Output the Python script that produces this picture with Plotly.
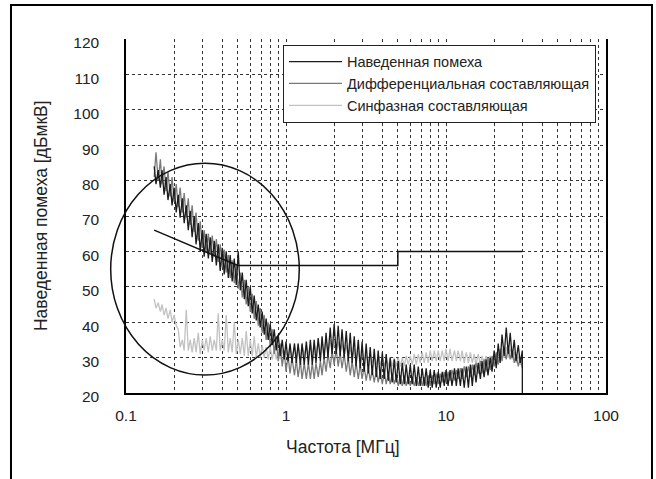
import plotly.graph_objects as go

# Frequency sweep [MHz] (shared by the three measured spectra)
freq_mhz = [0.150, 0.154, 0.159, 0.164, 0.168, 0.173, 0.178, 0.183, 0.189, 0.194,
            0.200, 0.206, 0.212, 0.218, 0.225, 0.231, 0.238, 0.245, 0.252, 0.259,
            0.267, 0.274, 0.283, 0.291, 0.300, 0.308, 0.317, 0.327, 0.336, 0.346,
            0.356, 0.367, 0.377, 0.388, 0.400, 0.411, 0.423, 0.436, 0.448, 0.461,
            0.475, 0.489, 0.503, 0.518, 0.533, 0.549, 0.564, 0.581, 0.598, 0.615,
            0.633, 0.652, 0.671, 0.690, 0.710, 0.731, 0.752, 0.774, 0.797, 0.820,
            0.844, 0.869, 0.894, 0.920, 0.947, 0.975, 1.00, 1.03, 1.06, 1.09,
            1.13, 1.16, 1.19, 1.23, 1.26, 1.30, 1.34, 1.38, 1.42, 1.46,
            1.50, 1.54, 1.59, 1.64, 1.68, 1.73, 1.78, 1.83, 1.89, 1.94,
            2.00, 2.06, 2.12, 2.18, 2.24, 2.31, 2.38, 2.45, 2.52, 2.59,
            2.67, 2.74, 2.83, 2.91, 2.99, 3.08, 3.17, 3.27, 3.36, 3.46,
            3.56, 3.67, 3.77, 3.88, 4.00, 4.11, 4.23, 4.36, 4.48, 4.61,
            4.75, 4.89, 5.03, 5.18, 5.33, 5.49, 5.64, 5.81, 5.98, 6.15,
            6.33, 6.52, 6.71, 6.90, 7.10, 7.31, 7.52, 7.74, 7.97, 8.20,
            8.44, 8.69, 8.94, 9.20, 9.47, 9.75, 10.0, 10.3, 10.6, 10.9,
            11.3, 11.6, 11.9, 12.3, 12.6, 13.0, 13.4, 13.8, 14.2, 14.6,
            15.0, 15.4, 15.9, 16.4, 16.8, 17.3, 17.8, 18.3, 18.9, 19.4,
            20.0, 20.6, 21.2, 21.8, 22.4, 23.1, 23.8, 24.5, 25.2, 25.9,
            26.7, 27.4, 28.3, 29.1, 30.0]

# Total conducted noise [dBuV]
total_db = [84, 79, 83, 78, 83, 76, 81, 74.5, 79, 73,
            78, 71, 76, 69.5, 75, 68, 73, 66, 71.5, 64,
            70, 62, 68, 60, 66, 58.5, 65, 58, 64, 57,
            63, 56, 62, 54.5, 61, 53.5, 60, 52.5, 59, 51.5,
            58, 50.5, 60, 49, 54, 46.5, 52, 44.5, 50, 42.5,
            47.5, 40.5, 45, 38.5, 43, 36.5, 41, 35, 39.5, 33.5,
            38, 32, 36.5, 30.5, 35, 29.5, 34.5, 29, 34, 28.5,
            34, 28.5, 34, 28, 34, 28, 34.5, 28, 35, 28,
            35, 28.5, 35.5, 29, 36, 29.5, 37, 30, 38.5, 31,
            39.5, 31, 39, 30.5, 38, 30, 37.5, 29, 37, 28.5,
            36, 27.5, 35, 27, 34.5, 26, 34, 25.5, 33, 25,
            32.5, 24.5, 32, 24, 31.5, 24, 31, 23.5, 30, 23,
            29.5, 23, 29, 22.5, 28.5, 22.5, 28, 22.5, 28, 22.5,
            28, 22, 27.5, 22, 27, 22, 27, 21.5, 26.5, 21.5,
            26.5, 21.5, 26, 21.5, 26, 22, 26.5, 22, 26.5, 22,
            27, 22, 27, 22, 27, 21.5, 27.5, 21.5, 28, 22,
            28, 23, 28.5, 24, 29, 24.5, 29.5, 25, 30, 26,
            32, 27, 34, 28.5, 36.5, 30.5, 38.5, 31, 37, 30,
            35, 29, 33.5, 28.5, 32]
total_tail_mhz = [30.0]
total_tail_db = [20]

# Differential-mode component [dBuV]
diff_db = [81, 88, 80, 86, 79, 84, 77, 82.5, 75.5, 81,
           74, 79, 72.5, 78, 71, 76.5, 69.5, 75, 67.5, 73,
           65.5, 71, 63, 68.5, 61, 66, 60, 65, 59.5, 64.5,
           58.5, 63.5, 57, 62, 55.5, 60.5, 54, 59, 52.5, 57.5,
           51, 56, 49.5, 54, 47, 52, 45, 50, 43, 48,
           41, 46, 39, 44, 37, 42, 35, 40, 33, 38,
           31, 36, 29, 34, 27.5, 32, 26, 30.5, 25.5, 30,
           25, 29.5, 24.5, 29, 24, 28.5, 24, 28.5, 24, 28.5,
           24, 28.5, 24.5, 29, 25, 30, 26, 31, 27, 32,
           28, 32.5, 27.5, 31.5, 27, 31, 26, 30, 25, 29,
           24.5, 28.5, 24, 28, 24, 27.5, 23.5, 27, 23.5, 26.5,
           23, 26.5, 23, 26, 22.5, 26, 22.5, 25.5, 22.5, 25.5,
           22.5, 25, 22, 25, 22, 25, 22, 24.5, 22, 24.5,
           22, 24.5, 22, 24.5, 22, 24.5, 22, 25, 22, 25,
           22.5, 25.5, 22.5, 25.5, 23, 26, 23, 26, 23.5, 26.5,
           23.5, 26.5, 24, 27, 24, 27.5, 24.5, 27.5, 24.5, 28,
           25, 28.5, 25.5, 29, 25.5, 29.5, 26, 30, 26.5, 30.5,
           27.5, 31.5, 28, 32.5, 29, 33, 29.5, 33, 29.5, 32,
           28.5, 31, 27.5, 30, 27]

# Common-mode component [dBuV]
common_db = [46.5, 44, 45.5, 43, 45, 42, 44, 41, 43.5, 40,
             42, 39, 38, 33, 35, 32, 43.5, 32, 35, 31.5,
             35.5, 31.5, 37, 31, 35, 32, 35.5, 31.5, 36, 32,
             35, 32, 42.5, 32, 35, 32, 42, 31.5, 35.5, 31.5,
             40, 31, 35, 31, 35.5, 30.5, 37.5, 30.5, 35, 30.5,
             36, 30, 34, 30, 33.5, 30, 33, 29.5, 33, 29.5,
             32.5, 29.5, 32.5, 29.5, 32, 29.5, 32, 29.5, 32.5, 30,
             33, 30, 33, 30, 33.5, 30.5, 33.5, 30.5, 34, 30.5,
             34, 31, 34.5, 31, 34.5, 31, 35, 31.5, 35, 31.5,
             35, 31.5, 34.5, 31, 34, 30.5, 33.5, 30, 33, 30,
             32.5, 29.5, 32, 29, 31.5, 29, 31, 28.5, 31, 28.5,
             30.5, 28, 30.5, 28, 30, 27.5, 30, 27.5, 30, 27.5,
             30, 27.5, 30, 27.5, 30, 27.5, 30.5, 28, 30.5, 28,
             31, 28, 31, 28.5, 31.5, 28.5, 31.5, 28.5, 32, 29,
             32, 29, 32, 29, 32, 29, 32.5, 29, 32.5, 29,
             32, 29, 32, 29, 32, 28.5, 31.5, 28.5, 31.5, 28.5,
             31, 28, 31, 28, 30.5, 28, 30.5, 28, 30.5, 28,
             31, 28.5, 31.5, 29, 32.5, 30, 33, 30, 32.5, 29.5,
             31.5, 28.5, 30.5, 28, 29.5]

# Limit line
limit_mhz = [0.15, 0.5, 5.0, 5.0, 30.0]
limit_db = [66, 56, 56, 60, 60]

series_names = ["Наведенная помеха", "Дифференциальная составляющая", "Синфазная составляющая"]
series_colors = ["#1c1c1c", "#7a7a7a", "#c2c2c2"]

x_tick_vals = [0.1, 1, 10, 100]
x_tick_text = ["0.1", "1", "10", "100"]
x_minor_vals = [0.2, 0.3, 0.4, 0.5, 0.6, 0.7, 0.8, 0.9,
                2, 3, 4, 5, 6, 7, 8, 9,
                20, 30, 40, 50, 60, 70, 80, 90]
y_tick_vals = [20, 30, 40, 50, 60, 70, 80, 90, 100, 110, 120]

FONT = "Liberation Sans, Arial, Helvetica, sans-serif"

fig = go.Figure()
fig.add_trace(go.Scatter(x=freq_mhz, y=common_db, mode="lines", name=series_names[2],
                         line=dict(color=series_colors[2], width=1.3), legendrank=3))
fig.add_trace(go.Scatter(x=freq_mhz, y=diff_db, mode="lines", name=series_names[1],
                         line=dict(color=series_colors[1], width=1.3), legendrank=2))
fig.add_trace(go.Scatter(x=freq_mhz + total_tail_mhz, y=total_db + total_tail_db, mode="lines",
                         name=series_names[0],
                         line=dict(color=series_colors[0], width=1.3), legendrank=1))
fig.add_trace(go.Scatter(x=limit_mhz, y=limit_db, mode="lines", showlegend=False,
                         line=dict(color="#111111", width=1.5)))

grid_kw = dict(showgrid=True, gridcolor="#333333", griddash="dot", gridwidth=1)

fig.update_xaxes(type="log", range=[-1, 2], tickvals=x_tick_vals, ticktext=x_tick_text,
                 ticks="", ticklabelstandoff=8, zeroline=False,
                 showline=True, linecolor="black", linewidth=1.5, mirror=False,
                 tickfont=dict(family=FONT, size=15.5, color="#222222"),
                 minor=dict(tickvals=x_minor_vals, ticks="", **grid_kw), **grid_kw)
fig.update_yaxes(range=[20, 120], tickvals=y_tick_vals, ticks="", ticklabelstandoff=22,
                 ticklabelshift=4, zeroline=False,
                 showline=True, linecolor="black", linewidth=1.5, mirror=True,
                 tickfont=dict(family=FONT, size=15.5, color="#222222"), **grid_kw)

fig.update_layout(
    width=656, height=479,
    margin=dict(l=126, r=50, t=39, b=86),
    paper_bgcolor="white", plot_bgcolor="white",
    font=dict(family=FONT, color="#222222"),
    legend=dict(x=0.327, y=0.984, xanchor="left", yanchor="top",
                bgcolor="white", bordercolor="#222222", borderwidth=1,
                font=dict(family=FONT, size=14.5, color="#222222"),
                tracegroupgap=0, itemwidth=53),
    shapes=[
        dict(type="rect", xref="paper", yref="paper", x0=-0.2396, x1=1.0958, y0=-0.30, y1=1.096,
             line=dict(color="black", width=2)),
        dict(type="circle", xref="paper", yref="paper", x0=-0.0319, x1=0.361, y0=0.0508, y1=0.649,
             line=dict(color="#111111", width=1.5)),
    ],
    annotations=[
        dict(text="Наведенная помеха [дБмкВ]", xref="paper", yref="paper", x=-0.177, y=0.5,
             textangle=-90, showarrow=False, font=dict(family=FONT, size=17.5, color="#222222"),
             xanchor="center", yanchor="middle"),
        dict(text="Частота [МГц]", xref="paper", yref="paper", x=0.452, y=-0.1525,
             showarrow=False, font=dict(family=FONT, size=17.5, color="#222222"),
             xanchor="center", yanchor="middle"),
    ],
)

fig.write_html("out.html", config={"displayModeBar": False},
               post_script="document.body.style.margin='0px';")
